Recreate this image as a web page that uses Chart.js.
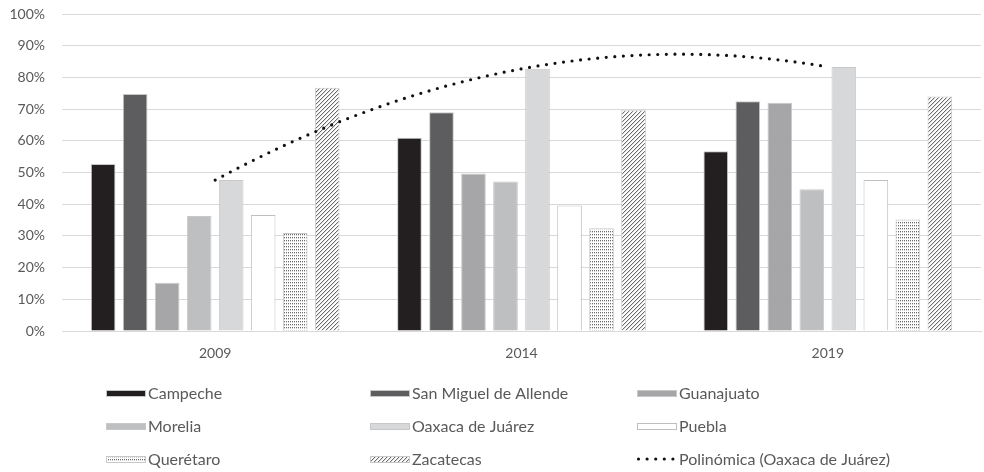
<!DOCTYPE html>
<html><head><meta charset="utf-8">
<script src="https://cdn.jsdelivr.net/npm/chart.js@4"></script>
<style>html,body{margin:0;padding:0;background:#fff}#wrap{width:984px;height:472px;position:relative}</style>
</head><body><div id="wrap"><canvas id="c"></canvas></div>
<script>
const years = ['2009', '2014', '2019'];
const campeche = [52.7, 61.0, 56.7];
const sanMiguel = [74.8, 69.0, 72.5];
const guanajuato = [15.2, 49.7, 72.0];
const morelia = [36.3, 47.2, 44.7];
const oaxaca = [47.6, 82.7, 83.3];
const puebla = [36.6, 39.6, 47.6];
const queretaro = [30.9, 32.4, 35.2];
const zacatecas = [76.7, 69.6, 74.0];
const seriesNames = ['Campeche', 'San Miguel de Allende', 'Guanajuato', 'Morelia', 'Oaxaca de Juárez', 'Puebla', 'Querétaro', 'Zacatecas'];
const trendName = 'Polinómica (Oaxaca de Juárez)';

const FONT = 'Lato, "Open Sans", sans-serif';
const TEXT = '#595959';

function makePattern(kind) {
  const c = document.createElement('canvas');
  const g = c.getContext('2d');
  if (kind === 'dots') {
    c.width = 2; c.height = 3;
    g.fillStyle = '#ffffff'; g.fillRect(0, 0, 2, 3);
    g.fillStyle = '#6a6a6a'; g.fillRect(0, 0, 1, 1);
    g.fillStyle = '#d0d0d0'; g.fillRect(0, 1, 1, 1);
  } else {
    c.width = 4; c.height = 4;
    g.fillStyle = '#ffffff'; g.fillRect(0, 0, 4, 4);
    g.fillStyle = '#6a6a6a';
    for (let i = 0; i < 4; i++) g.fillRect(i, 3 - i, 1, 1);
    g.fillStyle = '#dcdcdc';
    for (let i = 0; i < 4; i++) g.fillRect(i, (4 - i) % 4, 1, 1);
  }
  return g.createPattern(c, 'repeat');
}

const fills = ['#231f20', '#5d5d5f', '#a6a6a8', '#bebfc1', '#d7d8da', '#ffffff', makePattern('dots'), makePattern('hatch')];
const values = [campeche, sanMiguel, guanajuato, morelia, oaxaca, puebla, queretaro, zacatecas];

const datasets = values.map((v, i) => ({
  type: 'bar',
  label: seriesNames[i],
  data: v,
  backgroundColor: fills[i],
  borderColor: i === 5 ? '#bfbfbf' : '#c8c8c8',
  borderWidth: 1,
  categoryPercentage: 0.836,
  barPercentage: 0.77
}));
datasets.push({
  type: 'line',
  label: trendName,
  data: oaxaca,
  showLine: false,
  pointRadius: 0,
  borderColor: '#000',
  isTrend: true
});

function quadFit(ys) {
  // least squares y = a + b x + c x^2, x = 0..n-1
  const n = ys.length;
  let S = [0, 0, 0, 0, 0], T = [0, 0, 0];
  for (let i = 0; i < n; i++) {
    for (let k = 0; k < 5; k++) S[k] += Math.pow(i, k);
    for (let k = 0; k < 3; k++) T[k] += ys[i] * Math.pow(i, k);
  }
  const M = [[S[0], S[1], S[2], T[0]], [S[1], S[2], S[3], T[1]], [S[2], S[3], S[4], T[2]]];
  for (let c = 0; c < 3; c++) {
    let p = c;
    for (let r = c + 1; r < 3; r++) if (Math.abs(M[r][c]) > Math.abs(M[p][c])) p = r;
    [M[c], M[p]] = [M[p], M[c]];
    for (let r = 0; r < 3; r++) {
      if (r === c) continue;
      const f = M[r][c] / M[c][c];
      for (let k = c; k < 4; k++) M[r][k] -= f * M[c][k];
    }
  }
  return [M[0][3] / M[0][0], M[1][3] / M[1][1], M[2][3] / M[2][2]];
}

const trendPlugin = {
  id: 'trend',
  afterDatasetsDraw(chart) {
    const ds = chart.data.datasets.find(d => d.isTrend);
    if (!ds) return;
    const [a, b, c] = quadFit(ds.data);
    const xs = chart.scales.x, ys = chart.scales.y;
    const ctx = chart.ctx;
    ctx.save();
    ctx.beginPath();
    const n = ds.data.length - 1;
    for (let t = 0; t <= n + 1e-9; t += 0.01) {
      const px = xs.getPixelForValue(t);
      const py = ys.getPixelForValue(a + b * t + c * t * t);
      if (t === 0) ctx.moveTo(px, py); else ctx.lineTo(px, py);
    }
    ctx.strokeStyle = '#111';
    ctx.lineWidth = 3.2;
    ctx.lineCap = 'round';
    ctx.setLineDash([0, 8.6]);
    ctx.stroke();
    ctx.restore();
  }
};

const legendPlugin = {
  id: 'gridLegend',
  afterDraw(chart) {
    const ctx = chart.ctx;
    const ca = chart.chartArea;
    const colX = [106, 370, 637];
    const rowY = [ca.bottom + 62, ca.bottom + 95, ca.bottom + 128];
    ctx.save();
    ctx.font = '16px ' + FONT;
    ctx.textBaseline = 'middle';
    ctx.fillStyle = TEXT;
    chart.data.datasets.forEach((ds, i) => {
      const x = colX[i % 3], y = rowY[Math.floor(i / 3)];
      if (ds.isTrend) {
        ctx.save();
        ctx.beginPath();
        ctx.moveTo(x + 1.5, y);
        ctx.lineTo(x + 39, y);
        ctx.strokeStyle = '#111';
        ctx.lineWidth = 3.2;
        ctx.lineCap = 'round';
        ctx.setLineDash([0, 8.6]);
        ctx.stroke();
        ctx.restore();
      } else {
        ctx.fillStyle = ds.backgroundColor;
        ctx.fillRect(x, y - 3, 40, 7);
        ctx.strokeStyle = ds.borderColor;
        ctx.lineWidth = 1;
        ctx.strokeRect(x + 0.5, y - 2.5, 39, 6);
      }
      ctx.fillStyle = TEXT;
      ctx.fillText(ds.label, x + 42, y + 1);
    });
    ctx.restore();
  }
};

Chart.defaults.font.family = FONT;
Chart.defaults.color = TEXT;

new Chart(document.getElementById('c'), {
  data: { labels: years, datasets },
  options: {
    responsive: true,
    maintainAspectRatio: false,
    animation: false,
    layout: { padding: { top: 14, right: 3, left: 0, bottom: 0 } },
    plugins: { legend: { display: false }, tooltip: { enabled: false } },
    scales: {
      x: {
        grid: { display: false, drawTicks: false },
        border: { color: '#d9d9d9', width: 1 },
        ticks: { padding: 14, font: { size: 14 }, color: TEXT },
        afterFit(s) { s.height = 141; s.paddingLeft = 0; s.paddingRight = 0; }
      },
      y: {
        min: 0, max: 100,
        ticks: { stepSize: 10, padding: 17, font: { size: 14 }, color: TEXT, callback: v => v + '%' },
        grid: { color: '#d9d9d9', lineWidth: 1, drawTicks: false },
        border: { display: false },
        afterFit(s) { s.width = 62; s.paddingTop = 0; s.paddingBottom = 0; }
      }
    }
  },
  plugins: [trendPlugin, legendPlugin]
});
</script>
</body></html>
